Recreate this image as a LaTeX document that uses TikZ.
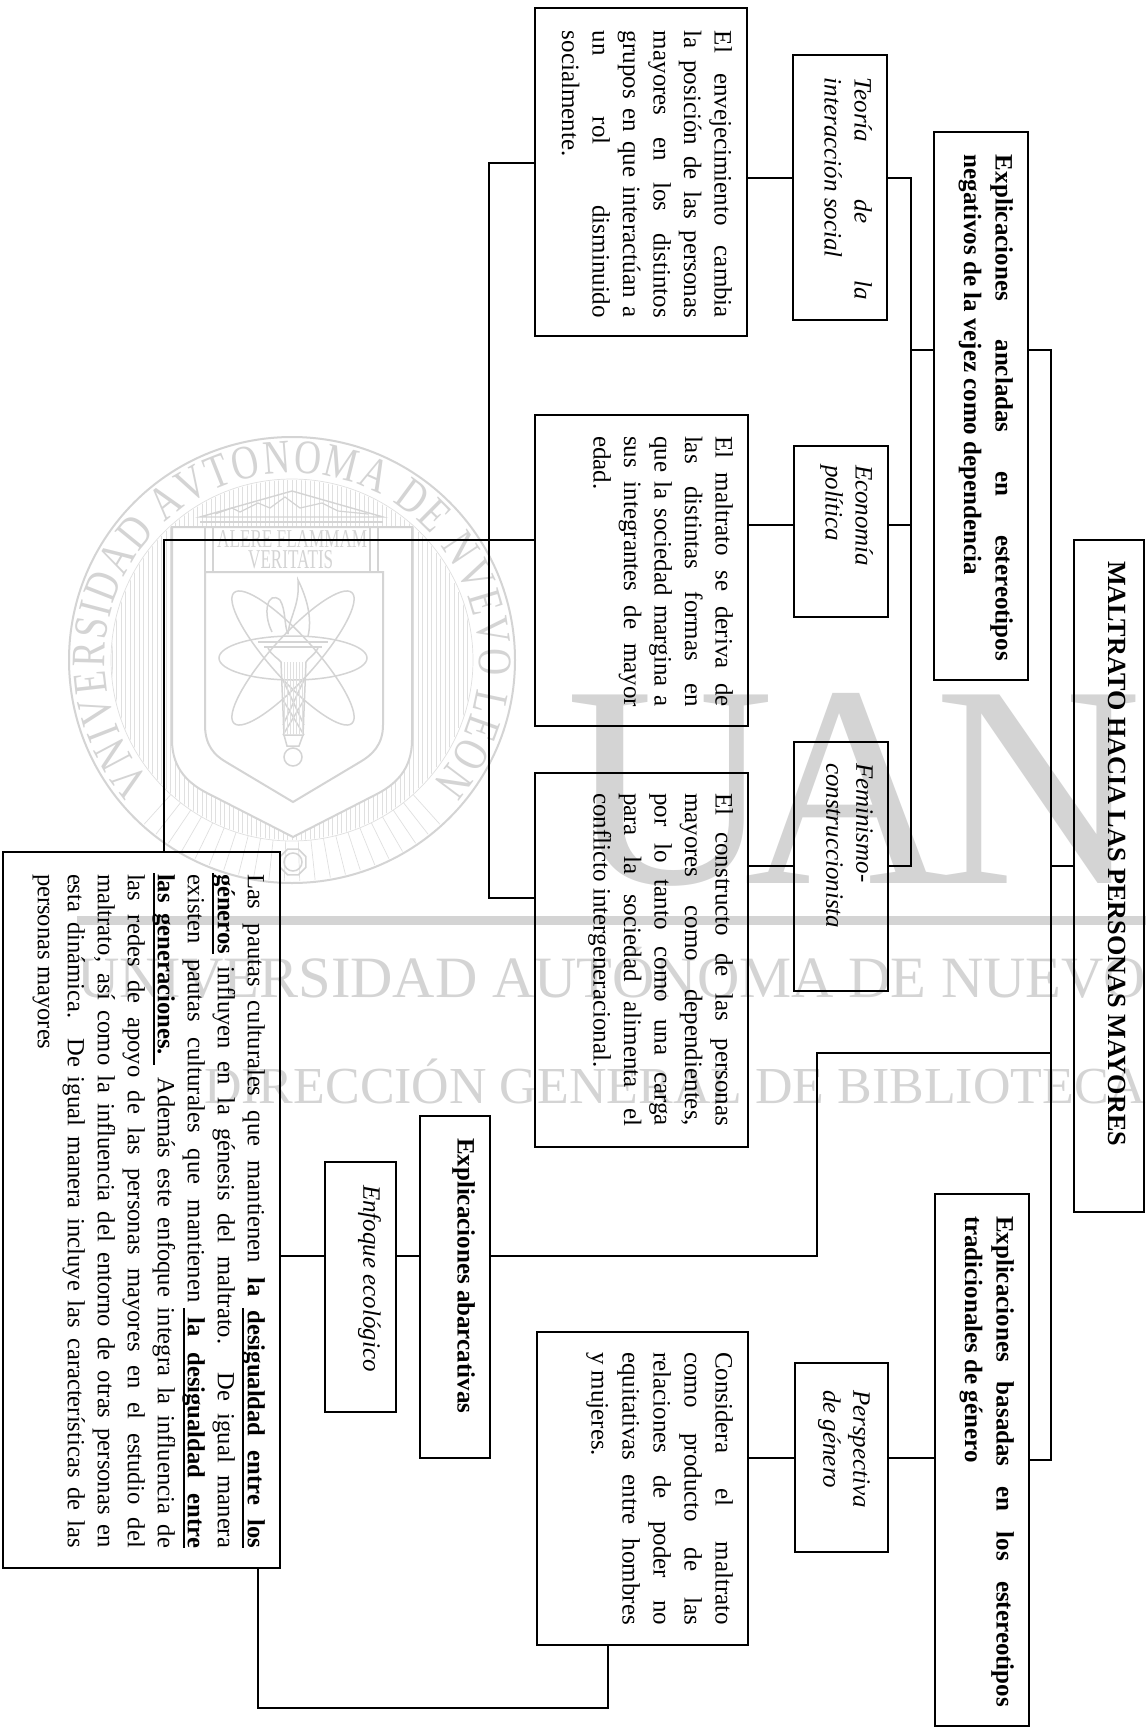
\documentclass[tikz,border=0pt]{standalone}
\usepackage{fontspec}
\usepackage{graphicx}
\usetikzlibrary{decorations.text}
\setmainfont{Liberation Serif}
\newfontfamily\wmarc[FakeStretch=0.78]{Liberation Serif}
\definecolor{wm}{gray}{0.83}
\definecolor{wml}{gray}{0.88}
\newcommand\bodyf{\fontsize{25}{30.5}\selectfont}
\newcommand\bigf{\fontsize{24.6}{30}\selectfont}
\newcommand\itf{\fontsize{25}{30}\selectfont\itshape}
\newcommand\boldf{\fontsize{25}{31.5}\selectfont\bfseries}
% name, x1, y1, x2, y2, top pad, start pad, text width, content
\newcommand\RBox[9]{%
  \pgfmathsetmacro\rbL{#5-#3}%
  \pgfmathsetmacro\rbH{#4-#2}%
  \pgfmathsetmacro\rbX{(#2+#4)/2}%
  \pgfmathsetmacro\rbY{(#3+#5)/2}%
  \node[boxst,minimum width=\rbL pt,minimum height=\rbH pt] (#1) at (\rbX,\rbY)
    {\makebox[\rbL pt][l]{\hspace*{#7pt}\parbox[c][\rbH pt][t]{#8pt}{\vspace*{#6pt}#9}}};%
}
\tikzset{
  boxst/.style={draw=black,line width=2pt,rotate=-90,inner sep=0pt,outer sep=0pt},
  conn/.style={draw=black,line width=2pt,line join=miter},
  wmline/.style={draw=wm,line width=2pt},
  wmthin/.style={draw=wml,line width=0.7pt},
  wmtext/.style={text=wm,inner sep=0pt,anchor=base west},
}
\begin{document}
\begin{tikzpicture}[x=1pt,y=-1pt]
\useasboundingbox (0,0) rectangle (1146,1728);
\clip (0,0) rectangle (1146,1728);
\fill[white] (0,0) rectangle (1146,1728);
% ---------- watermark ----------
\begin{scope}[even odd rule]
  \clip (292,660) circle (180pt)
    (172,527) -- (412,527) -- (412,740) .. controls (412,770) and (395,785) .. (375,795) -- (293,837) -- (211,795) .. controls (190,785) and (172,770) .. (172,740) -- cycle;
  \foreach \hx in {112,116.5,...,472} {\draw[wmthin] (\hx,470) -- (\hx,850);}
\end{scope}
\begin{scope}[shift={(292,660)},x=1pt,y=1pt]
  \draw[wmline] (0,0) circle (223pt);
  \draw[wmthin] (0,0) circle (181pt);
  \foreach \ha in {228,232,...,312} {\draw[wmthin] (\ha:181pt) -- (\ha:221pt);}
  \path[decorate,decoration={text along path,text align={fit to path},
     text={|\wmarc\fontsize{48}{48}\selectfont\color{wm}|VNIVERSIDAD AVTONOMA DE NVEVO LEON}}]
     (221:187pt) arc (221:-41:187pt);
\end{scope}
\draw[wmline] (172,527) -- (412,527) -- (412,740) .. controls (412,770) and (395,785) .. (375,795) -- (293,837) -- (211,795) .. controls (190,785) and (172,770) .. (172,740) -- cycle;
\draw[wmline] (205,572) -- (383,572) -- (383,725) .. controls (383,745) and (372,755) .. (360,762) -- (293,802) -- (226,762) .. controls (214,755) and (205,745) .. (205,725) -- cycle;
\draw[wmline,line width=1.4pt] (200,517) -- (292,491) -- (383,517) -- cycle;
\draw[wmline,line width=1.4pt] (200,522) -- (383,522);
\draw[wmline,line width=1.2pt] (215,514) -- (232,508) -- (240,512) -- (258,503) -- (270,508) -- (285,497) -- (300,508) -- (322,503) -- (338,511) -- (368,514);
\foreach \cx in {205,213,370,378} {\draw[wmline,line width=1.2pt] (\cx,527) -- (\cx,571);}
\node[wmtext] (wmalere) at (217,547) {\resizebox{150pt}{17pt}{ALERE FLAMMAM}};
\node[wmtext] (wmverit) at (248,568) {\resizebox{85pt}{18pt}{VERITATIS}};
% atom
\begin{scope}[wmline,line width=1.5pt]
  \draw (293,658) ellipse [x radius=74pt,y radius=22pt];
  \draw[rotate around={48:(293,658)}] (293,658) ellipse [x radius=88pt,y radius=22pt];
  \draw[rotate around={-48:(293,658)}] (293,658) ellipse [x radius=88pt,y radius=22pt];
  % flame
  \draw (272,632) .. controls (262,612) and (268,590) .. (280,600) .. controls (286,610) and (284,625) .. (288,634);
  \draw (288,634) .. controls (290,615) and (300,605) .. (298,580) .. controls (308,600) and (312,620) .. (308,636);
  % torch
  \draw (258,642) -- (328,642) (264,647) -- (322,647);
  \draw (268,648) .. controls (272,656) and (278,658) .. (281,662) -- (284,735) -- (303,735) -- (306,662) .. controls (308,658) and (314,656) .. (318,648);
  \draw (284,735) -- (287,746) -- (299,746) -- (303,735);
  \draw (293,757) circle (9pt);
  \draw (283,680) -- (304,725) (304,680) -- (283,725) (283,700) -- (304,735) (304,700) -- (283,735);
  \draw (293,862) +(22.5:14pt) -- +(67.5:14pt) -- +(112.5:14pt) -- +(157.5:14pt) -- +(202.5:14pt) -- +(247.5:14pt) -- +(292.5:14pt) -- +(337.5:14pt) -- cycle;
  \draw (293,862) circle (9pt);
\end{scope}
\foreach \hx in {284,287,...,303} {\draw[wmthin] (\hx,662) -- (\hx,735);}
% big letters
\node[wmtext] (wmuan) at (566,883) {\fontsize{288}{288}\selectfont U\kern-30pt A\kern-18pt N};
\fill[wm] (77,916) rectangle (1146,925);
\node[wmtext] (wmuni) at (77,997) {\fontsize{54}{54}\selectfont\resizebox{1069pt}{!}{UNIVERSIDAD AUTÓNOMA DE NUEVO}};
\node[wmtext] (wmdir) at (204,1103) {\fontsize{54}{54}\selectfont\resizebox{942pt}{!}{DIRECCIÓN GENERAL DE BIBLIOTECA}\rlap{S}};
% ---------- boxes ----------
\RBox{maltrato}{1074}{540}{1144}{1212}{18}{21}{630}{\fontsize{26.2}{30}\selectfont\bfseries MALTRATO HACIA LAS PERSONAS MAYORES}
\RBox{anclada}{934}{132}{1028}{680}{15}{23}{506}{\boldf Explicaciones ancladas en estereotipos\linebreak negativos de la vejez como dependencia}
\RBox{basadas}{935}{1194}{1029}{1726}{15}{22}{491}{\boldf Explicaciones basadas en los estereotipos\linebreak tradicionales de género}
\RBox{teoria}{793}{55}{887}{320}{15}{23}{222}{\itf Teoría de la\linebreak interacción social}
\RBox{econ}{794}{446}{888}{617}{15}{19}{140}{\itf\raggedright Economía\\política}
\RBox{fem}{794}{742}{888}{991}{15}{21}{200}{\itf\raggedright Feminismo-\\construccionista}
\RBox{persp}{795}{1363}{888}{1552}{18}{27}{150}{\itf\raggedright Perspectiva\\de género}
\RBox{enfoque}{325}{1162}{396}{1412}{15}{23}{210}{\itf\raggedright Enfoque ecológico}
\RBox{abarc}{420}{1116}{490}{1458}{15}{22}{300}{\fontsize{25}{30}\selectfont\bfseries\raggedright Explicaciones abarcativas}
\RBox{txa}{535}{8}{747}{336}{15}{23}{287}{\bodyf El envejecimiento cambia\linebreak la posición de las personas\linebreak mayores en los distintos\linebreak grupos en que interactúan a\linebreak un rol disminuido\linebreak socialmente.}
\RBox{txb}{535}{415}{748}{726}{15}{21}{271}{\bodyf El maltrato se deriva de\linebreak las distintas formas en\linebreak que la sociedad margina a\linebreak sus integrantes de mayor\linebreak edad.}
\RBox{txc}{535}{773}{748}{1147}{15}{20}{333}{\bodyf El constructo de las personas\linebreak mayores como dependientes,\linebreak por lo tanto como una carga\linebreak para la sociedad alimenta el\linebreak conflicto intergeneracional.}
\RBox{txd}{537}{1332}{748}{1645}{15}{20}{273}{\fontsize{25}{31}\selectfont Considera el maltrato\linebreak como producto de las\linebreak relaciones de poder no\linebreak equitativas entre hombres\linebreak y mujeres.}
\RBox{txe}{3}{852}{280}{1568}{15}{22}{674}{\bigf Las pautas culturales que mantienen {\bfseries la desigualdad entre los}\linebreak {\bfseries géneros} influyen en la génesis del maltrato. De igual manera\linebreak existen pautas culturales que mantienen {\bfseries la desigualdad entre}\linebreak {\bfseries las generaciones.} Además este enfoque integra la influencia de\linebreak las redes de apoyo de las personas mayores en el estudio del\linebreak maltrato, así como la influencia del entorno de otras personas en\linebreak esta dinámica. De igual manera incluye las características de las\linebreak personas mayores}
% underlines of the large box
\draw[line width=2pt] (243,1308) -- (243,1548);
\draw[line width=2pt] (213,873) -- (213,954);
\draw[line width=2pt] (183.5,1308) -- (183.5,1548);
\draw[line width=2pt] (153.5,873) -- (153.5,1065);
% ---------- connectors ----------
\coordinate (trA) at (1051,350);
\coordinate (trB) at (1051,1460);
\coordinate (trC) at (1051,866);
\coordinate (trD) at (1051,1053);
\coordinate (trE) at (817,1053);
\coordinate (trF) at (817,1256);
\draw[conn] (anclada.north |- 0,350) -- (trA) -- (trB) -- (basadas.north |- 0,1460);
\draw[conn] (trC) -- (maltrato.south |- 0,866);
\draw[conn] (trD) -- (trE) -- (trF) -- (abarc.north |- 0,1256);
\coordinate (bsA) at (911,178);
\coordinate (bsB) at (911,866);
\coordinate (bsC) at (911,350);
\coordinate (bsD) at (911,525);
\draw[conn] (teoria.north |- 0,178) -- (bsA) -- (bsB) -- (fem.north |- 0,866);
\draw[conn] (bsC) -- (anclada.south |- 0,350);
\draw[conn] (bsD) -- (econ.north |- 0,525);
\draw[conn] (txa.north |- 0,178) -- (teoria.south |- 0,178);
\draw[conn] (txb.north |- 0,525) -- (econ.south |- 0,525);
\draw[conn] (txc.north |- 0,866) -- (fem.south |- 0,866);
\coordinate (lbA) at (489,163);
\coordinate (lbB) at (489,898);
\draw[conn] (txa.south |- 0,163) -- (lbA) -- (lbB) -- (txc.south |- 0,898);
\coordinate (lcA) at (163.5,540);
\draw[conn] (txb.south |- 0,540) -- (lcA) -- (lcA |- txe.west);
\draw[conn] (abarc.south |- 0,1256) -- (enfoque.north |- 0,1256);
\draw[conn] (enfoque.south |- 0,1256) -- (txe.north |- 0,1256);
\coordinate (bmA) at (257.5,1708);
\coordinate (bmB) at (607.5,1708);
\draw[conn] (bmA |- txe.east) -- (bmA) -- (bmB) -- (bmB |- txd.east);
\draw[conn] (txd.north |- 0,1458) -- (persp.south |- 0,1458);
\draw[conn] (persp.north |- 0,1458) -- (basadas.south |- 0,1458);
\end{tikzpicture}
\end{document}
